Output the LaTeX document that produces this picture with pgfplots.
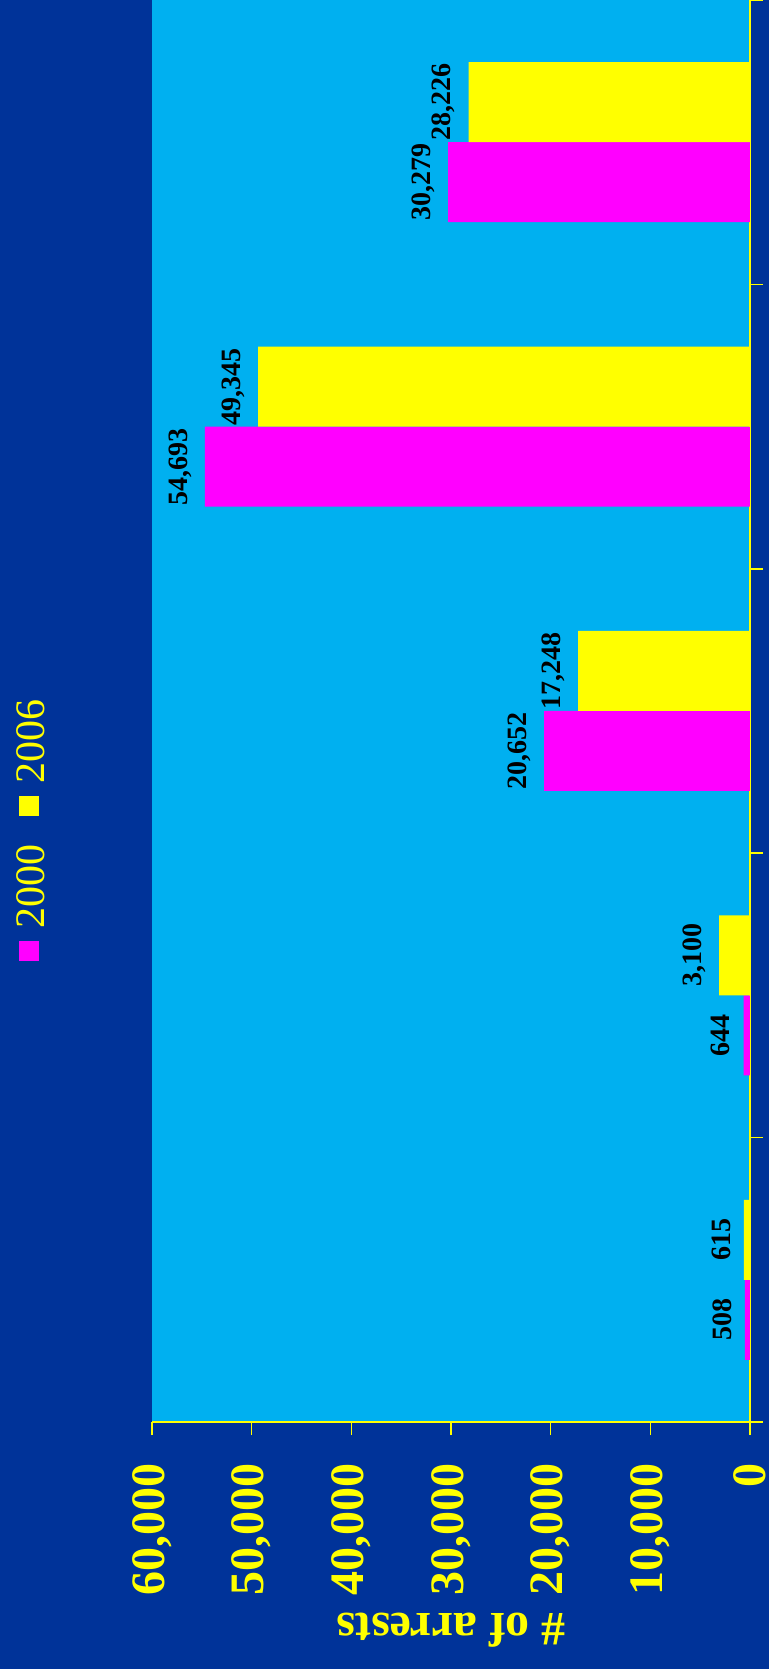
\documentclass[border=0pt]{standalone}
\usepackage{fontspec}
\setmainfont{Liberation Serif}
\usepackage{pgfplots}
\pgfplotsset{compat=1.18}
\usetikzlibrary{backgrounds}

\definecolor{navy}{RGB}{0,51,153}
\definecolor{sky}{RGB}{0,176,240}
\definecolor{mag}{RGB}{255,0,255}
\definecolor{yel}{RGB}{255,255,0}

% legend key drawn as part of the (rotated) legend text
\newcommand{\key}[1]{\textcolor{#1}{\raisebox{2.5pt}{\rule{10pt}{10pt}}}\hspace{6pt}}

\begin{document}
\begin{tikzpicture}
\begin{axis}[
  name=ax,
  xbar, bar width=40pt,
  scale only axis, width=299pt, height=711pt,
  xmin=0, xmax=60000, x dir=reverse,
  ymin=-0.5, ymax=4.5,
  xtick={0,10000,...,60000},
  ytick={-0.5,0.5,...,4.5},
  yticklabel=\empty,
  scaled x ticks=false,
  /pgf/number format/1000 sep={,},
  /pgf/number format/assume math mode=true,
  axis x line=bottom, axis y line=right,
  axis line style={yel, line width=0.8pt, -},
  tick style={yel, line width=0.8pt},
  tick align=outside, major tick length=6.5pt,
  axis background/.style={fill=sky},
  xticklabel style={rotate=90, anchor=east, inner sep=0pt, text=yel,
    font=\bfseries\fontsize{24}{24}\selectfont},
  xticklabel shift=14pt,
  xlabel={\# of arrests},
  xlabel style={at={(axis description cs:0.5,-0.1463)}, anchor=center, rotate=180,
    text=yel, font=\bfseries\fontsize{24}{24}\selectfont},
  nodes near coords,
  point meta=x,
  every node near coord/.append style={rotate=90, anchor=south, inner xsep=0pt,
    inner ysep=6.5pt, text=black, font=\bfseries\fontsize{14}{14}\selectfont},
  legend image code/.code={},
  reverse legend,
  legend style={at={(axis description cs:-0.2007,0.4163)}, anchor=center,
    draw=none, fill=none, legend columns=1, inner sep=0pt, row sep=14.5pt,
    column sep=0pt,
    nodes={inner sep=0pt, rotate=90, text=yel, font=\fontsize{21}{21}\selectfont}},
]
\addplot[fill=mag, draw=none, bar shift=-20pt] coordinates {(508,0) (644,1) (20652,2) (54693,3) (30279,4)};
\addplot[fill=yel, draw=none, bar shift=20pt] coordinates {(615,0) (3100,1) (17248,2) (49345,3) (28226,4)};
\legend{\key{mag}2000,\key{yel}2006}
\end{axis}
\pgfresetboundingbox
\path ([xshift=-76pt,yshift=-123.5pt]ax.south west) rectangle ([xshift=9.5pt]ax.north east);
\begin{pgfonlayer}{background}
\fill[navy] ([xshift=-76pt,yshift=-123.5pt]ax.south west) rectangle ([xshift=9.5pt]ax.north east);
\end{pgfonlayer}
\end{tikzpicture}
\end{document}
